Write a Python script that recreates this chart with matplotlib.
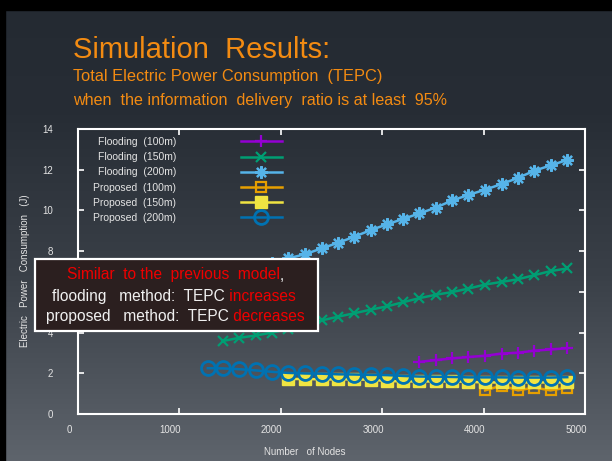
import numpy as np
import matplotlib
matplotlib.use("Agg")
import matplotlib.pyplot as plt
from matplotlib.patches import Rectangle
from matplotlib.transforms import ScaledTranslation

plt.rcParams['font.family'] = ['Liberation Sans', 'DejaVu Sans']

# number of nodes
nodes = [1280, 1430, 1590, 1755, 1915, 2070, 2240, 2405, 2565, 2725, 2890, 3050,
         3205, 3365, 3530, 3690, 3850, 4015, 4180, 4340, 4500, 4660, 4825]

flood_100_x = nodes[13:]
flood_100 = [2.56, 2.65, 2.73, 2.80, 2.86, 2.97, 3.01, 3.11, 3.17, 3.23]

flood_150_x = nodes[1:]
flood_150 = [3.59, 3.74, 3.86, 4.00, 4.17, 4.35, 4.60, 4.78, 4.95, 5.13, 5.29,
             5.49, 5.69, 5.86, 5.99, 6.16, 6.36, 6.49, 6.62, 6.82, 7.02, 7.15]

flood_200_x = nodes[1:]
flood_200 = [6.65, 6.90, 7.15, 7.40, 7.64, 7.85, 8.14, 8.41, 8.71, 9.04, 9.32,
             9.58, 9.85, 10.14, 10.49, 10.76, 11.02, 11.30, 11.60, 11.95, 12.21, 12.48]

prop_100_x = nodes[17:]
prop_100 = [1.16, 1.40, 1.16, 1.30, 1.16, 1.30]

prop_150_x = nodes[5:]
prop_150 = [1.72, 1.72, 1.70, 1.70, 1.70, 1.68, 1.62, 1.60, 1.60, 1.60, 1.60,
            1.58, 1.55, 1.55, 1.55, 1.55, 1.55, 1.55]

prop_200_x = nodes
prop_200 = [2.25, 2.24, 2.20, 2.14, 2.07, 2.02, 1.99, 1.98, 1.95, 1.94, 1.92, 1.91,
            1.87, 1.84, 1.83, 1.82, 1.80, 1.80, 1.80, 1.79, 1.79, 1.79, 1.81]

W, H = 612, 461
fig = plt.figure(figsize=(W / 100, H / 100), dpi=100)

# background gradient
bg = fig.add_axes([0, 0, 1, 1], zorder=-10)
rows = np.linspace(0, 1, H)
stops = [0.0, 0.25, 0.6, 1.0]
cols = np.array([[0x24, 0x2a, 0x32], [0x27, 0x2d, 0x35], [0x3a, 0x40, 0x48], [0x5e, 0x64, 0x6c]]) / 255
grad = np.stack([np.interp(rows, stops, cols[:, i]) for i in range(3)], axis=-1)
grad = np.repeat(grad[:, None, :], 2, axis=1)
bg.imshow(grad, aspect='auto', extent=[0, 1, 0, 1], origin='upper')
bg.set_xlim(0, 1)
bg.set_ylim(0, 1)
bg.axis('off')
bg.add_patch(Rectangle((0, 1 - 10 / H), 1, 10 / H, color='black'))
bg.add_patch(Rectangle((0, 0), 5 / W, 1, color='black'))

# titles
orange = '#f38b12'
fig.text(73 / W, 1 - 50 / H, 'Simulation  Results:', color=orange, fontsize=21, va='center')
fig.text(73 / W, 1 - 77 / H, 'Total Electric Power Consumption  (TEPC)', color=orange,
         fontsize=11.8, va='center')
fig.text(73 / W, 1 - 100 / H, 'when  the information  delivery  ratio is at least  95%',
         color=orange, fontsize=11.6, va='center')

ax = fig.add_axes([78 / W, 1 - 414 / H, 507 / W, 285 / H])
ax.set_facecolor('none')

lw = 1.8
ax.plot(flood_100_x, flood_100, color='#9400d3', lw=lw, marker='+', ms=9, mew=1.6,
        label='Flooding  (100m)')
ax.plot(flood_150_x, flood_150, color='#009e73', lw=lw, marker='x', ms=7, mew=1.6,
        label='Flooding  (150m)')
ax.plot(flood_200_x, flood_200, color='#56b4e9', lw=lw, marker=(8, 2, 0), ms=9, mew=1.6,
        label='Flooding  (200m)')
ax.plot(prop_100_x, prop_100, color='#e69f00', lw=lw, marker='s', ms=7, mew=1.6,
        mfc='none', label='Proposed  (100m)')
ax.plot(prop_150_x, prop_150, color='#f0e442', lw=lw, marker='s', ms=8,
        label='Proposed  (150m)')
ax.plot(prop_200_x, prop_200, color='#0072b2', lw=lw, marker='o', ms=10, mew=2,
        mfc='none', label='Proposed  (200m)')

ax.set_xlim(0, 5000)
ax.set_ylim(0, 14)
ax.set_xticks(range(0, 5001, 1000))
ax.set_yticks(range(0, 15, 2))
for s in ax.spines.values():
    s.set_color('white')
    s.set_linewidth(1.5)
ax.tick_params(direction='in', top=True, right=True, color='white', length=4, width=1.2,
               labelcolor='#e4e4e4', labelsize=7)
ax.tick_params(axis='y', pad=18)
ax.tick_params(axis='x', pad=8)
offset = ScaledTranslation(-9 / 100, 0, fig.dpi_scale_trans)
for lbl in ax.get_xticklabels():
    lbl.set_transform(lbl.get_transform() + offset)

fig.text(305 / W, 1 - 452 / H, 'Number   of Nodes', color='#e4e4e4', fontsize=7,
         ha='center', va='center')
fig.text(25 / W, 1 - 271 / H, 'Electric   Power   Consumption   (J)', color='#e4e4e4',
         fontsize=7, ha='center', va='center', rotation=90)

leg = ax.legend(loc='upper left', bbox_to_anchor=(93 / W, 1 - 137 / H),
                bbox_transform=fig.transFigure, frameon=False, markerfirst=False,
                fontsize=7.5, labelcolor='#e4e4e4', handlelength=4, handletextpad=6.2,
                borderpad=0, borderaxespad=0, labelspacing=0.5, numpoints=1)

# annotation box
ax.add_patch(Rectangle((35 / W, 1 - 331 / H), 283 / W, 72 / H, transform=fig.transFigure,
                       facecolor='#2b1f1f', edgecolor='white', lw=1.6, zorder=10,
                       clip_on=False))

red = '#ee0000'
white = '#f0f0f0'
lines = [
    (67, 275, [('Similar  to the  previous  model', red), (',', white)]),
    (52, 296, [('flooding   method:  TEPC', white), (' increases', red)]),
    (46, 316, [('proposed   method:  TEPC', white), (' decreases', red)]),
]
for x0, y0, parts in lines:
    prev = None
    for txt, c in parts:
        if prev is None:
            prev = ax.text(x0 / W, 1 - y0 / H, txt, color=c, fontsize=11.2,
                           transform=fig.transFigure, va='center', zorder=11, clip_on=False)
        else:
            prev = ax.annotate(txt, xy=(1, 0), xycoords=prev, color=c, fontsize=11.2,
                               va='bottom', ha='left', zorder=11, annotation_clip=False)

fig.savefig('out.png', dpi=100)
